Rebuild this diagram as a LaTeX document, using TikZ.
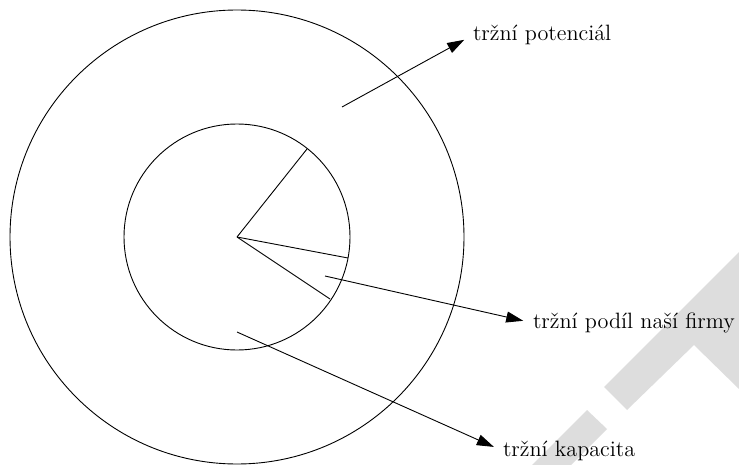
\documentclass[tikz,border=0pt]{standalone}
\usepackage{fontspec}
\usetikzlibrary{arrows.meta}
\definecolor{markgray}{RGB}{221,221,221}
\begin{document}
\begin{tikzpicture}[x=0.5pt,y=-0.5pt,
  ring/.style={draw=black,line width=0.45pt},
  radius line/.style={draw=black,line width=0.45pt},
  pointer/.style={draw=black,line width=0.45pt,-{Triangle[length=8.5pt,width=5.5pt]}},
  label/.style={anchor=west,inner sep=0pt,outer sep=0pt,font=\fontsize{11.1}{13.5}\selectfont},
  band/.style={fill=markgray,draw=none}]
  \useasboundingbox (0,0) rectangle (739,465);

  % light grey bands in the lower right corner
  \fill[band] (604,387) -- (627,410) -- (694,345) -- (739,389) -- (739,252) -- cycle;
  \fill[band] (587,410) -- (607,429) -- (571,465) -- (532,465) -- cycle;

  % market circles
  \coordinate (c) at (237,237);
  \draw[ring] (c) circle[radius=227];
  \draw[ring] (c) circle[radius=113];

  % share sector
  \coordinate (r1) at (307,149);
  \coordinate (r2) at (348,258);
  \coordinate (r3) at (330,299);
  \draw[radius line] (c) -- (r1);
  \draw[radius line] (c) -- (r2);
  \draw[radius line] (c) -- (r3);

  % labels
  \node[label] (pot) at (473,35) {tržní potenciál};
  \node[label] (pod) at (533,323) {tržní podíl naší firmy};
  \node[label] (kap) at (503,451) {tržní kapacita};

  % pointers
  \coordinate (s1) at (342,107);
  \coordinate (s2) at (325,276);
  \coordinate (s3) at (237,332);
  \draw[pointer,shorten >=5pt] (s1) -- (pot.west);
  \draw[pointer,shorten >=5pt] (s2) -- (pod.west);
  \draw[pointer,shorten >=5pt] (s3) -- (kap.west);
\end{tikzpicture}
\end{document}
